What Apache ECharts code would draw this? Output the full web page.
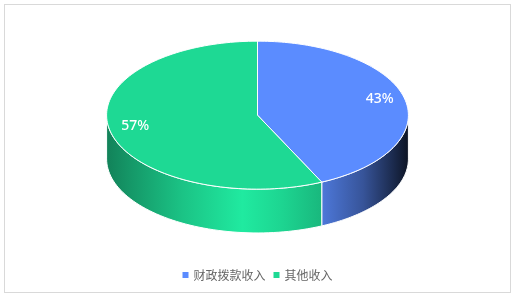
<!DOCTYPE html>
<html><head><meta charset="utf-8">
<script src="https://cdn.jsdelivr.net/npm/echarts@6/dist/echarts.min.js"></script>
<style>
html,body{margin:0;padding:0;background:#fff;}
#c{position:absolute;left:0;top:0;width:515px;height:296px;}
#frame{position:absolute;left:4px;top:4px;width:505px;height:287px;border:1px solid #d9d9d9;pointer-events:none;}
</style></head>
<body>
<div id="c"></div>
<div id="frame"></div>
<script>
var categories = ['财政拨款收入', '其他收入'];
var values = [43, 57];
var colors = ['#5b8cff', '#1ed994'];

var total = values.reduce(function(a,b){return a+b;},0);
function shade(hex, f){
  var r=parseInt(hex.substr(1,2),16), g=parseInt(hex.substr(3,2),16), b=parseInt(hex.substr(5,2),16);
  function c(v){return Math.max(0,Math.min(255,Math.round(v*f)));}
  return 'rgb('+c(r)+','+c(g)+','+c(b)+')';
}
var light = [[0,0.6],[0.08,0.7],[0.25,0.9],[0.45,1.08],[0.58,0.98],[0.72,0.84],[0.85,0.6],[0.95,0.3],[1,0.14]];

function makeRender(idx){
  return function(params, api){
    var W = api.getWidth(), H = api.getHeight();
    var cx = W*0.5, cy = H*0.389, rx = W*0.293, ry = H*0.25, h = H*0.148;
    var start = 0;
    for (var k=0;k<idx;k++) start += values[k];
    var a = start/total*2*Math.PI, b = (start+values[idx])/total*2*Math.PI;
    function pt(t, dy){ return [cx + rx*Math.sin(t), cy - ry*Math.cos(t) + (dy||0)]; }
    var children = [];
    var s = Math.max(a, Math.PI/2), e = Math.min(b, 3*Math.PI/2);
    if (s < e){
      var n = 60, top=[], bot=[];
      for (var i=0;i<=n;i++){ var t = s+(e-s)*i/n; top.push(pt(t)); bot.push(pt(t,h)); }
      var poly = top.concat(bot.reverse());
      children.push({
        type:'polygon', z2:1,
        shape:{points:poly},
        style:{
          fill:{type:'linear', x:cx-rx, y:0, x2:cx+rx, y2:0, global:true,
            colorStops: light.map(function(p){return {offset:p[0], color:shade(colors[idx], p[1])};})},
          stroke:'#fff', lineWidth:1
        }
      });
    }
    var m = 120, pts=[[cx,cy]];
    for (var j=0;j<=m;j++){ pts.push(pt(a+(b-a)*j/m)); }
    children.push({
      type:'polygon', z2:5,
      shape:{points:pts},
      style:{fill:colors[idx], stroke:'#fff', lineWidth:1}
    });
    var mid = (a+b)/2, lr = 0.83;
    var lx = cx + rx*lr*Math.sin(mid), ly = cy - ry*lr*Math.cos(mid) - 3;
    children.push({
      type:'text', z2:10,
      style:{x:lx, y:ly, text:Math.round(values[idx]/total*100)+'%', fill:'#fff',
        font:'500 14px "Noto Sans", sans-serif', align:'center', verticalAlign:'middle'}
    });
    return {type:'group', children:children};
  };
}

var chart = echarts.init(document.getElementById('c'));
chart.setOption({
  animation:false,
  legend:{
    data:categories, left:'center', top:264, icon:'rect', itemWidth:6, itemHeight:6, itemGap:8,
    textStyle:{color:'#666', fontSize:12, fontFamily:'"Noto Sans CJK SC", sans-serif'}
  },
  series: categories.map(function(name, i){
    return {type:'custom', name:name, coordinateSystem:'none', data:[[values[i]]],
      itemStyle:{color:colors[i]}, renderItem:makeRender(i)};
  })
});
</script>
</body></html>
